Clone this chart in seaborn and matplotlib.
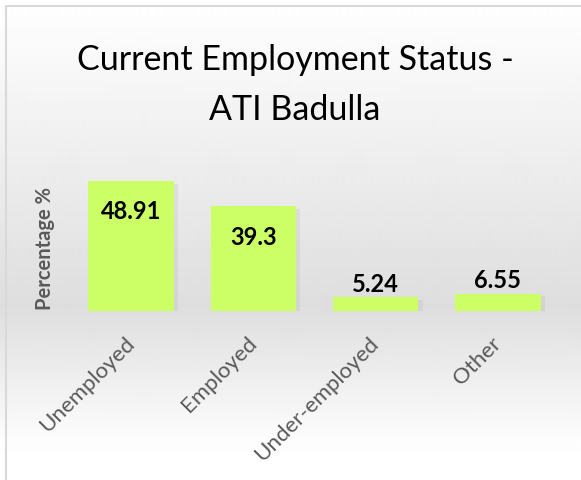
import numpy as np
import pandas as pd
import matplotlib
matplotlib.use("Agg")
import matplotlib.pyplot as plt
import matplotlib.patheffects as pe
import seaborn as sns

categories = ["Unemployed", "Employed", "Under-employed", "Other"]
percentages = [48.91, 39.3, 5.24, 6.55]
value_labels = ["48.91", "39.3", "5.24", "6.55"]
title_lines = ["Current Employment Status -", "ATI Badulla"]
y_label = "Percentage %"

W, H = 581, 480
BAR_COLOR = "#ccff66"

sns.set_theme(style="white")
plt.rcParams["font.family"] = ["Lato", "DejaVu Sans"]

df = pd.DataFrame({"status": categories, "pct": percentages})

fig = plt.figure(figsize=(W / 100, H / 100), dpi=100)

# background: vertical grey gradient + thin border like the Excel chart area
bg = fig.add_axes([0, 0, 1, 1], zorder=-2)
rows = np.arange(H) / (H - 1)
shade = np.interp(rows, [0.0, 0.64, 0.93, 1.0], [1.0, 0.87, 0.995, 1.0])
grad = np.repeat(shade[:, None], 2, axis=1)
bg.imshow(grad, cmap="gray", vmin=0, vmax=1, aspect="auto",
          extent=[0, W, H, 0], interpolation="bilinear")
bg.plot([6, 6, W], [H, 6, 6], color="#d9d9d9", lw=1.5)
bg.set_xlim(0, W)
bg.set_ylim(H, 0)
bg.axis("off")

ax = fig.add_axes([70 / W, 169 / H, 489 / W, 159.6 / H])
ax.set_facecolor("none")
sns.barplot(data=df, x="status", y="pct", color=BAR_COLOR, width=0.7,
            saturation=1, ax=ax, edgecolor="none")
for p in ax.patches:
    p.set_path_effects([pe.SimplePatchShadow(offset=(3, -2), shadow_rgbFace="#999999", alpha=0.15),
                        pe.Normal()])

ax.set_ylim(0, 60)
ax.set_xlim(-0.5, len(categories) - 0.5)
sns.despine(ax=ax, left=True, bottom=True)
ax.set_yticks([])
ax.tick_params(axis="x", length=0, pad=21)
ax.set_xticks(range(len(categories)))
ax.set_xticklabels(categories, rotation=45, ha="right", va="center",
                   rotation_mode="anchor", fontsize=16, color="#595959")
ax.set_xlabel("")
ax.set_ylabel(y_label, fontsize=14.5, fontweight="bold", color="#595959")
ax.yaxis.set_label_coords(-0.031, 0.39)

for i, (v, lab) in enumerate(zip(percentages, value_labels)):
    if v > 20:
        ax.annotate(lab, (i, v), xytext=(0, -14), textcoords="offset points",
                    ha="center", va="top", fontsize=17, fontweight="bold", color="black")
    else:
        ax.annotate(lab, (i, v), xytext=(0, 1), textcoords="offset points",
                    ha="center", va="bottom", fontsize=17, fontweight="bold", color="black")

fig.text(295 / W, 1 - 70 / H, title_lines[0], ha="center", va="baseline",
         fontsize=24.5, color="black")
fig.text(295 / W, 1 - 120 / H, title_lines[1], ha="center", va="baseline",
         fontsize=24.5, color="black")

plt.savefig("out.png", dpi=100)
plt.close()
